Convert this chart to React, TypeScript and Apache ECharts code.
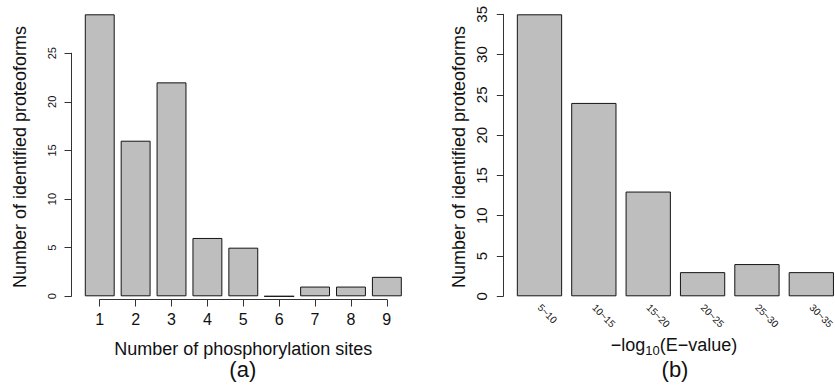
import React, { useEffect, useRef } from "react";
import * as echarts from "echarts";

// Panel (a): proteoforms by number of phosphorylation sites
const siteCounts = ["1", "2", "3", "4", "5", "6", "7", "8", "9"];
const siteProteoforms = [29, 16, 22, 6, 5, 0, 1, 1, 2];
const siteAxisMax = 25;
const siteAxisStep = 5;

// Panel (b): proteoforms by -log10(E-value) bin
const evalueBins = ["5~10", "10~15", "15~20", "20~25", "25~30", "30~35"];
const evalueProteoforms = [35, 24, 13, 3, 4, 3];
const evalueAxisMax = 35;
const evalueAxisStep = 5;

const FONT = "'Liberation Sans', Arial, Helvetica, sans-serif";
const BAR_FILL = "#bebebe";
const BAR_EDGE = "#141414";
const AXIS_COLOR = "#333333";
const TEXT_COLOR = "#111111";

export default function App() {
  const ref = useRef<HTMLDivElement | null>(null);

  useEffect(() => {
    if (!ref.current) return;
    const chart = echarts.init(ref.current, undefined, { renderer: "svg" });

    const hiddenAxis = (gridIndex: number) => ({
      type: "value" as const,
      gridIndex,
      min: 0,
      max: 1,
      show: false,
    });

    const barStyle = {
      color: BAR_FILL,
      borderColor: BAR_EDGE,
      borderWidth: 1,
    };

    const option: any = {
      animation: false,
      textStyle: { fontFamily: FONT, color: TEXT_COLOR },
      grid: [
        // (a) bars
        { left: 81.8, top: 14.3, width: 323.0, height: 282, containLabel: false, outerBoundsMode: "none" },
        // (a) y axis (drawn only over its tick range)
        { left: 71.5, top: 53.2, width: 10, height: 243.1, containLabel: false, outerBoundsMode: "none" },
        // (a) x axis, from first to last bar centre
        { left: 99.7, top: 250, width: 287.1, height: 49.5, containLabel: false, outerBoundsMode: "none" },
        // (b) bars and y axis
        { left: 512.3, top: 14.3, width: 326.2, height: 282, containLabel: false, outerBoundsMode: "none" },
      ],
      xAxis: [
        {
          type: "category",
          gridIndex: 0,
          data: siteCounts,
          show: false,
        },
        hiddenAxis(1),
        {
          type: "category",
          gridIndex: 2,
          data: siteCounts,
          boundaryGap: false,
          position: "bottom",
          axisLine: { show: true, lineStyle: { color: AXIS_COLOR, width: 1 } },
          axisTick: { show: true, length: 7, lineStyle: { color: AXIS_COLOR } },
          axisLabel: { fontSize: 16, margin: 11.5, color: TEXT_COLOR, fontFamily: FONT },
          splitLine: { show: false },
        },
        {
          type: "category",
          gridIndex: 3,
          data: evalueBins,
          axisLine: { show: false },
          axisTick: { show: false },
          axisLabel: {
            rotate: -45,
            fontSize: 10,
            margin: 9.5,
            interval: 0,
            color: TEXT_COLOR,
            fontFamily: FONT,
          },
          splitLine: { show: false },
        },
      ],
      yAxis: [
        {
          type: "value",
          gridIndex: 0,
          min: 0,
          max: Math.max(...siteProteoforms),
          show: false,
        },
        {
          type: "value",
          gridIndex: 1,
          min: 0,
          max: siteAxisMax,
          interval: siteAxisStep,
          position: "left",
          axisLine: { show: true, lineStyle: { color: AXIS_COLOR, width: 1 } },
          axisTick: { show: true, length: 7, lineStyle: { color: AXIS_COLOR } },
          axisLabel: { rotate: 90, fontSize: 11, margin: 14, color: TEXT_COLOR, fontFamily: FONT },
          splitLine: { show: false },
        },
        hiddenAxis(2),
        {
          type: "value",
          gridIndex: 3,
          min: 0,
          max: evalueAxisMax,
          interval: evalueAxisStep,
          position: "left",
          offset: 9,
          axisLine: { show: true, lineStyle: { color: AXIS_COLOR, width: 1 } },
          axisTick: { show: true, length: 6.5, lineStyle: { color: AXIS_COLOR } },
          axisLabel: { rotate: 90, fontSize: 15, margin: 14, color: TEXT_COLOR, fontFamily: FONT },
          splitLine: { show: false },
        },
      ],
      series: [
        {
          type: "bar",
          xAxisIndex: 0,
          yAxisIndex: 0,
          data: siteProteoforms,
          barCategoryGap: "16.7%",
          itemStyle: barStyle,
          emphasis: { disabled: true },
        },
        {
          type: "bar",
          xAxisIndex: 3,
          yAxisIndex: 3,
          data: evalueProteoforms,
          barCategoryGap: "16.7%",
          itemStyle: barStyle,
          emphasis: { disabled: true },
        },
      ],
      graphic: [
        {
          type: "text",
          x: 19.5,
          y: 157,
          rotation: Math.PI / 2,
          style: {
            text: "Number of identified proteoforms",
            fontSize: 18,
            fontFamily: FONT,
            fill: TEXT_COLOR,
            align: "center",
            verticalAlign: "middle",
          },
        },
        {
          type: "text",
          x: 243.3,
          y: 349,
          style: {
            text: "Number of phosphorylation sites",
            fontSize: 18,
            fontFamily: FONT,
            fill: TEXT_COLOR,
            align: "center",
            verticalAlign: "middle",
          },
        },
        {
          type: "text",
          x: 242.8,
          y: 369.5,
          style: {
            text: "(a)",
            fontSize: 22,
            fontFamily: FONT,
            fill: TEXT_COLOR,
            align: "center",
            verticalAlign: "middle",
          },
        },
        {
          type: "text",
          x: 458.5,
          y: 157,
          rotation: Math.PI / 2,
          style: {
            text: "Number of identified proteoforms",
            fontSize: 18,
            fontFamily: FONT,
            fill: TEXT_COLOR,
            align: "center",
            verticalAlign: "middle",
          },
        },
        {
          type: "group",
          x: 610.7,
          y: 345.2,
          children: [
            {
              type: "text",
              x: 0,
              y: 0,
              style: {
                text: "\u2212log",
                fontSize: 18,
                fontFamily: FONT,
                fill: TEXT_COLOR,
                align: "left",
                verticalAlign: "middle",
              },
            },
            {
              type: "text",
              x: 34.5,
              y: 5.3,
              style: {
                text: "10",
                fontSize: 13,
                fontFamily: FONT,
                fill: TEXT_COLOR,
                align: "left",
                verticalAlign: "middle",
              },
            },
            {
              type: "text",
              x: 49,
              y: 0,
              style: {
                text: "(E\u2212value)",
                fontSize: 18,
                fontFamily: FONT,
                fill: TEXT_COLOR,
                align: "left",
                verticalAlign: "middle",
              },
            },
          ],
        },
        {
          type: "text",
          x: 675,
          y: 369.5,
          style: {
            text: "(b)",
            fontSize: 22,
            fontFamily: FONT,
            fill: TEXT_COLOR,
            align: "center",
            verticalAlign: "middle",
          },
        },
      ],
    };

    chart.setOption(option);
    return () => {
      chart.dispose();
    };
  }, []);

  return (
    <div
      ref={ref}
      style={{ position: "fixed", left: 0, top: 0, width: 835, height: 385, background: "#ffffff" }}
    />
  );
}
